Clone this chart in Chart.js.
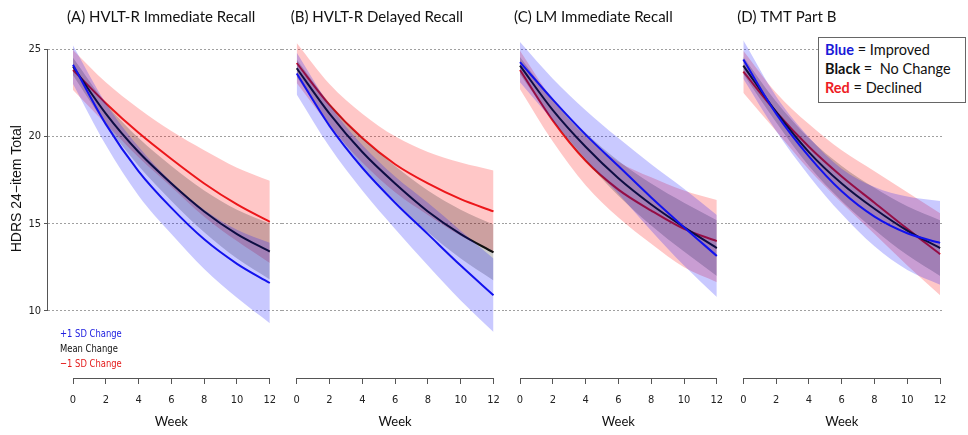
<!DOCTYPE html>
<html>
<head>
<meta charset="utf-8">
<script src="https://cdn.jsdelivr.net/npm/chart.js@4.4.1/dist/chart.umd.min.js"></script>
<style>
  body { margin: 0; background: #fff; }
  #wrap { position: relative; width: 968px; height: 435px; overflow: hidden; background: #fff; }
  #wrap canvas { position: absolute; top: 0; }
  .legbox { position: absolute; left: 818px; top: 37px; width: 148px; height: 66px; box-sizing: border-box;
            border: 1px solid #666; background: #fff; padding: 2px 0 0 6px;
            font-family: Lato, 'Open Sans', sans-serif; font-size: 14.5px; line-height: 19px; color: #111; }
  .sd { position: absolute; left: 60px; font-family: 'Liberation Sans Narrow', 'DejaVu Sans Condensed', Roboto, sans-serif;
        font-size: 11px; line-height: 12px; transform: scaleX(0.85); transform-origin: left center; white-space: nowrap; }
</style>
</head>
<body>
<div id="wrap">
  <div class="legbox"><b style="color:#1a1ad8">Blue</b> = Improved<br><b>Black</b> =&nbsp; No Change<br><b style="color:#ee1c24">Red</b> = Declined</div>
  <div class="sd" style="top:328px;color:#2020e0">+1 SD Change</div>
  <div class="sd" style="top:343px;color:#111">Mean Change</div>
  <div class="sd" style="top:358px;color:#e41a1a">&minus;1 SD Change</div>
</div>
<script>
// weeks and axis ticks
const weeks = [0, 2, 4, 6, 8, 10, 12];
const weekTicks = [0, 2, 4, 6, 8, 10, 12];
const hdrsTicks = [10, 15, 20, 25];
const panelTitles = ['(A) HVLT-R Immediate Recall', '(B) HVLT-R Delayed Recall', '(C) LM Immediate Recall', '(D) TMT Part B'];

// (A) HVLT-R Immediate Recall
const aBlue    = [24.1, 20.7, 18.0, 15.9, 14.1, 12.7, 11.6];
const aBlueHi  = [25.2, 21.9, 19.4, 17.4, 15.8, 14.65, 13.9];
const aBlueLo  = [23.0, 19.5, 16.6, 14.4, 12.4, 10.75, 9.3];
const aBlack   = [24.0, 21.3, 19.1, 17.3, 15.7, 14.4, 13.4];
const aBlackHi = [24.5, 21.9, 19.9, 18.3, 16.9, 15.8, 15.0];
const aBlackLo = [23.5, 20.7, 18.3, 16.3, 14.5, 13.0, 11.8];
const aRed     = [23.8, 21.9, 20.2, 18.7, 17.3, 16.1, 15.1];
const aRedHi   = [24.95, 23.1, 21.6, 20.3, 19.2, 18.2, 17.45];
const aRedLo   = [22.65, 20.7, 18.8, 17.1, 15.4, 14.0, 12.75];

// (B) HVLT-R Delayed Recall
const bBlue    = [23.6, 20.6, 18.2, 16.2, 14.4, 12.6, 10.9];
const bBlueHi  = [24.8, 21.8, 19.5, 17.7, 16.2, 14.6, 13.0];
const bBlueLo  = [22.4, 19.4, 16.9, 14.7, 12.6, 10.6, 8.8];
const bBlack   = [23.9, 21.3, 19.1, 17.3, 15.7, 14.4, 13.35];
const bBlackHi = [24.4, 21.9, 19.9, 18.3, 16.9, 15.8, 14.95];
const bBlackLo = [23.4, 20.7, 18.3, 16.3, 14.5, 13.0, 11.75];
const bRed     = [24.2, 21.8, 19.9, 18.4, 17.3, 16.4, 15.7];
const bRedHi   = [25.35, 23.0, 21.3, 20.0, 19.1, 18.5, 18.05];
const bRedLo   = [23.05, 20.6, 18.5, 16.8, 15.5, 14.3, 13.35];

// (C) LM Immediate Recall
const cBlue    = [24.25, 22.1, 20.1, 18.3, 16.5, 14.8, 13.15];
const cBlueHi  = [25.4, 23.3, 21.5, 19.9, 18.4, 17.0, 15.5];
const cBlueLo  = [23.1, 20.9, 18.7, 16.7, 14.6, 12.6, 10.8];
const cBlack   = [24.05, 21.5, 19.4, 17.6, 16.1, 14.8, 13.6];
const cBlackHi = [24.55, 22.1, 20.2, 18.6, 17.3, 16.2, 15.2];
const cBlackLo = [23.55, 20.9, 18.6, 16.6, 14.9, 13.4, 12.0];
const cRed     = [23.8, 20.9, 18.6, 16.95, 15.75, 14.7, 14.0];
const cRedHi   = [24.9, 22.1, 20.0, 18.55, 17.65, 16.9, 16.35];
const cRedLo   = [22.7, 19.7, 17.2, 15.35, 13.85, 12.5, 11.65];

// (D) TMT Part B
const dBlue    = [24.4, 21.3, 18.85, 16.85, 15.4, 14.45, 13.9];
const dBlueHi  = [25.5, 22.3, 19.95, 18.15, 17.1, 16.55, 16.3];
const dBlueLo  = [23.3, 20.3, 17.75, 15.55, 13.7, 12.35, 11.5];
const dBlack   = [24.05, 21.4, 19.1, 17.3, 15.85, 14.6, 13.6];
const dBlackHi = [24.55, 22.0, 19.9, 18.3, 17.05, 16.0, 15.2];
const dBlackLo = [23.55, 20.8, 18.3, 16.3, 14.65, 13.2, 12.0];
const dRed     = [23.7, 21.4, 19.4, 17.7, 16.2, 14.7, 13.25];
const dRedHi   = [24.9, 22.5, 20.7, 19.2, 18.0, 16.8, 15.6];
const dRedLo   = [22.5, 20.3, 18.1, 16.2, 14.4, 12.6, 10.9];

const panelData = [
  { blue: aBlue, blueHi: aBlueHi, blueLo: aBlueLo, black: aBlack, blackHi: aBlackHi, blackLo: aBlackLo, red: aRed, redHi: aRedHi, redLo: aRedLo },
  { blue: bBlue, blueHi: bBlueHi, blueLo: bBlueLo, black: bBlack, blackHi: bBlackHi, blackLo: bBlackLo, red: bRed, redHi: bRedHi, redLo: bRedLo },
  { blue: cBlue, blueHi: cBlueHi, blueLo: cBlueLo, black: cBlack, blackHi: cBlackHi, blackLo: cBlackLo, red: cRed, redHi: cRedHi, redLo: cRedLo },
  { blue: dBlue, blueHi: dBlueHi, blueLo: dBlueLo, black: dBlack, blackHi: dBlackHi, blackLo: dBlackLo, red: dRed, redHi: dRedHi, redLo: dRedLo }
];

// page layout of the four panels (pixels)
const PX_PER_WEEK = 16.4;
const panelLayout = [
  { left: 0,   width: 282, axisW: 48, padR: 0,  week0: 73 },
  { left: 282, width: 223, axisW: 0,  padR: 0,  week0: 296.7 },
  { left: 505, width: 223, axisW: 0,  padR: 0,  week0: 520 },
  { left: 728, width: 240, axisW: 0,  padR: 26, week0: 743.3 }
];
const Y_MIN = 6.16, Y_MAX = 26.09;   // so that 25 -> y 49, 10 -> y 311

const BLUE = 'rgb(18,18,238)', RED = 'rgb(236,22,26)', BLACK = '#111';
const BLUE_BAND = 'rgba(0,0,255,0.21)', RED_BAND = 'rgba(255,0,0,0.22)', BLACK_BAND = 'rgba(0,0,0,0.2)';
const AXIS = '#555', GRID = '#a0a0a0';
const NARROW = "'Liberation Sans Narrow', 'DejaVu Sans Condensed', Roboto, sans-serif";

Chart.defaults.font.family = NARROW;
Chart.defaults.color = '#222';

const pts = (arr) => arr.map((v, i) => ({ x: weeks[i], y: v }));

// R-style axis segments, panel titles and axis titles
const panelDecor = {
  id: 'panelDecor',
  afterDraw(chart, args, opts) {
    const { ctx, chartArea } = chart;
    const xs = chart.scales.x, ys = chart.scales.y;
    const xFirst = xs.getPixelForValue(weekTicks[0]);
    const xLast = xs.getPixelForValue(weekTicks[weekTicks.length - 1]);
    ctx.save();
    ctx.strokeStyle = AXIS;
    ctx.lineWidth = 1;
    ctx.beginPath();
    ctx.moveTo(xFirst, Math.round(chartArea.bottom) + 0.5);
    ctx.lineTo(xLast, Math.round(chartArea.bottom) + 0.5);
    if (opts.yAxis) {
      const xa = Math.round(chartArea.left) - 0.5;
      ctx.moveTo(xa, ys.getPixelForValue(hdrsTicks[0]));
      ctx.lineTo(xa, ys.getPixelForValue(hdrsTicks[hdrsTicks.length - 1]));
    }
    ctx.stroke();

    ctx.fillStyle = '#111';
    ctx.textBaseline = 'middle';
    ctx.textAlign = 'left';
    ctx.font = "15px Lato, 'Open Sans', sans-serif";
    ctx.fillText(opts.title, xFirst - 6, 17);

    ctx.textAlign = 'center';
    ctx.font = "13px Lato, 'Open Sans', sans-serif";
    ctx.fillText('Week', xs.getPixelForValue(6), 422);

    if (opts.yAxis) {
      ctx.save();
      ctx.translate(17, ys.getPixelForValue(17));
      ctx.rotate(-Math.PI / 2);
      ctx.font = "14px 'Liberation Sans', Arial, sans-serif";
      ctx.fillText('HDRS 24\u2212item Total', 0, 0);
      ctx.restore();
    }
    ctx.restore();
  }
};

function band(hi, lo, color, order) {
  return [
    { data: pts(hi), backgroundColor: color, borderColor: 'rgba(0,0,0,0)', borderWidth: 0,
      pointRadius: 0, fill: '+1', order: order, cubicInterpolationMode: 'monotone' },
    { data: pts(lo), backgroundColor: color, borderColor: 'rgba(0,0,0,0)', borderWidth: 0,
      pointRadius: 0, fill: false, order: order, cubicInterpolationMode: 'monotone' }
  ];
}

function line(vals, color, order) {
  return { data: pts(vals), borderColor: color, borderWidth: 2, pointRadius: 0, fill: false,
           order: order, cubicInterpolationMode: 'monotone' };
}

const wrap = document.getElementById('wrap');

panelLayout.forEach((lay, p) => {
  const d = panelData[p];
  const canvas = document.createElement('canvas');
  canvas.width = lay.width;
  canvas.height = 435;
  canvas.style.left = lay.left + 'px';
  wrap.insertBefore(canvas, wrap.firstChild);

  const areaLeft = lay.left + lay.axisW;
  const areaRight = lay.left + lay.width - lay.padR;
  const first = p === 0;

  new Chart(canvas, {
    type: 'line',
    data: {
      datasets: [
        ...band(d.redHi, d.redLo, RED_BAND, 6),
        line(d.red, RED, 5),
        ...band(d.blackHi, d.blackLo, BLACK_BAND, 4),
        line(d.black, BLACK, 3),
        ...band(d.blueHi, d.blueLo, BLUE_BAND, 2),
        line(d.blue, BLUE, 1)
      ]
    },
    options: {
      responsive: false,
      animation: false,
      devicePixelRatio: 1,
      events: [],
      layout: { padding: { top: 30, right: lay.padR, bottom: 0, left: 0 } },
      plugins: {
        legend: { display: false },
        tooltip: { enabled: false },
        panelDecor: { title: panelTitles[p], yAxis: first }
      },
      scales: {
        x: {
          type: 'linear',
          min: (areaLeft - lay.week0) / PX_PER_WEEK,
          max: (areaRight - lay.week0) / PX_PER_WEEK,
          afterBuildTicks: (s) => { s.ticks = weekTicks.map(v => ({ value: v })); },
          afterFit: (s) => { s.height = 57; s.paddingLeft = 0; s.paddingRight = 0; },
          grid: { display: true, drawOnChartArea: false, drawTicks: true, tickLength: 6, tickColor: AXIS, tickWidth: 1 },
          border: { display: false },
          ticks: { font: { size: 11 }, padding: 10, maxRotation: 0, autoSkip: false, color: '#222' }
        },
        y: {
          type: 'linear',
          min: Y_MIN,
          max: Y_MAX,
          afterBuildTicks: (s) => { s.ticks = hdrsTicks.map(v => ({ value: v })); },
          afterFit: (s) => { s.width = lay.axisW; s.paddingTop = 0; s.paddingBottom = 0; },
          grid: { display: true, drawOnChartArea: true, drawTicks: first, tickLength: 4,
                  color: GRID, lineWidth: 1, tickColor: AXIS, borderDash: [2, 2], tickBorderDash: [] },
          border: { display: false, dash: [2, 2] },
          ticks: { display: first, font: { size: 11 }, padding: 3, color: '#222' }
        }
      }
    },
    plugins: [panelDecor]
  });
});
</script>
</body>
</html>
